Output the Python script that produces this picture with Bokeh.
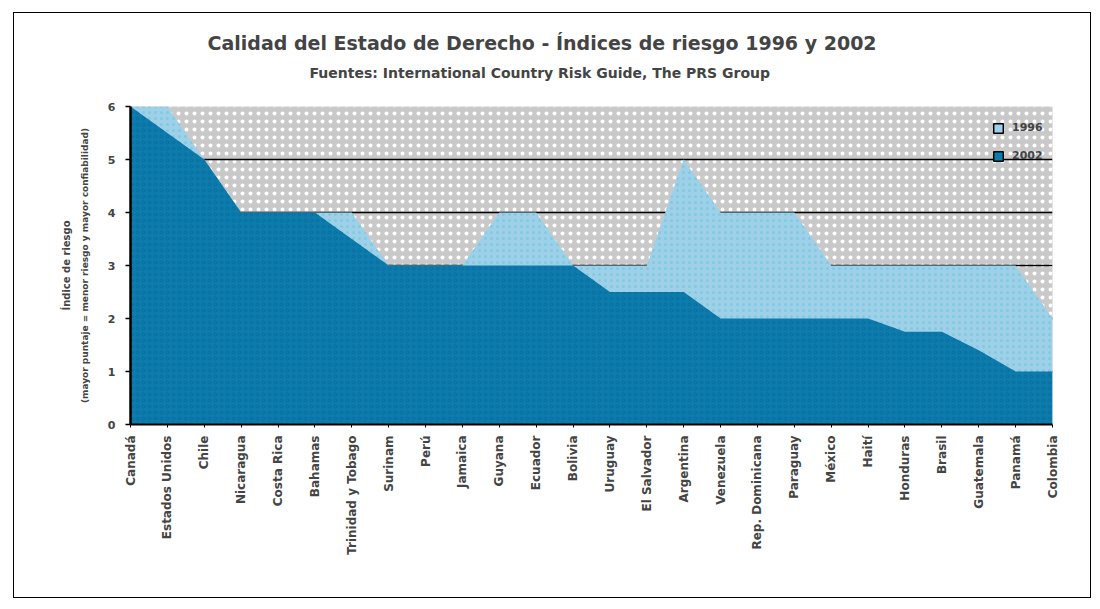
import math
from bokeh.plotting import figure
from bokeh.models import (FixedTicker, BoxAnnotation, Legend, LegendItem, Title,
                          ColumnDataSource, Range1d, LinearAxis)
from bokeh.embed import file_html
from bokeh.resources import INLINE

# ---- data ----
countries = ["Canadá", "Estados Unidos", "Chile", "Nicaragua", "Costa Rica", "Bahamas",
             "Trinidad y Tobago", "Surinam", "Perú", "Jamaica", "Guyana", "Ecuador",
             "Bolivia", "Uruguay", "El Salvador", "Argentina", "Venezuela",
             "Rep. Dominicana", "Paraguay", "México", "Haití", "Honduras", "Brasil",
             "Guatemala", "Panamá", "Colombia"]
v1996 = [6, 6, 5, 4, 4, 4, 4, 3, 3, 3, 4, 4, 3, 3, 3, 5, 4, 4, 4, 3, 3, 3, 3, 3, 3, 2]
v2002 = [6, 5.5, 5, 4, 4, 4, 3.5, 3, 3, 3, 3, 3, 3, 2.5, 2.5, 2.5, 2, 2, 2, 2, 2,
         1.75, 1.75, 1.4, 1, 1]
y_ticks = [0, 1, 2, 3, 4, 5, 6]
series_names = ["1996", "2002"]
title_text = "Calidad del Estado de Derecho - Índices de riesgo 1996 y 2002"
subtitle_text = "Fuentes: International Country Risk Guide, The PRS Group"
ylabel1 = "Índice de riesgo"
ylabel2 = "(mayor puntaje = menor riesgo y mayor confiabilidad)"

xs = list(range(len(countries)))
src = ColumnDataSource(dict(x=xs, y96=v1996, y02=v2002, zero=[0] * len(xs)))

LIGHT = "#9fd0ea"
DARK = "#0b7cab"
FONT = "DejaVu Sans"

p = figure(width=1078, height=586, frame_width=922, frame_height=318,
           output_backend="svg", toolbar_location=None,
           x_range=Range1d(0, len(xs) - 1), y_range=Range1d(0, 6),
           min_border_left=116, min_border_right=38, min_border_top=93,
           min_border_bottom=173, title=None)
p.margin = (12, 0, 0, 13)
p.styles = {"border": "1px solid black"}
p.outline_line_color = None
p.background_fill_color = "#c9c9c9"
p.border_fill_color = "white"

bg = BoxAnnotation(fill_alpha=0, line_alpha=0, hatch_pattern="dot", hatch_color="white",
                   hatch_scale=8, hatch_weight=1.6, level="image")
p.add_layout(bg)

r96 = p.varea(x="x", y1="zero", y2="y96", source=src, fill_color=LIGHT,
              hatch_pattern="dot", hatch_color="#6cc6d2", hatch_scale=6, hatch_weight=1,
              hatch_alpha=0.6)
r02 = p.varea(x="x", y1="zero", y2="y02", source=src, fill_color=DARK,
              hatch_pattern="ring", hatch_color="#0a5f96", hatch_scale=6, hatch_weight=1,
              hatch_alpha=0.5)

# axes
p.xgrid.visible = False
p.ygrid.ticker = FixedTicker(ticks=y_ticks)
p.ygrid.grid_line_color = "black"
p.ygrid.grid_line_width = 1.6

p.yaxis.ticker = FixedTicker(ticks=y_ticks)
p.yaxis.axis_line_width = 2.5
p.yaxis.axis_line_color = "black"
p.yaxis.major_tick_out = 5
p.yaxis.major_tick_in = 0
p.yaxis.major_tick_line_width = 1.5
p.yaxis.minor_tick_line_color = None
p.yaxis.major_label_standoff = 10
p.yaxis.major_label_text_font = FONT
p.yaxis.major_label_text_font_style = "bold"
p.yaxis.major_label_text_font_size = "11px"
p.yaxis.axis_label = ylabel2
p.yaxis.axis_label_text_font = FONT
p.yaxis.axis_label_text_font_style = "bold"
p.yaxis.axis_label_text_font_size = "9px"
p.yaxis.axis_label_standoff = 15

outer = LinearAxis(axis_label=ylabel1, ticker=FixedTicker(ticks=[]),
                   axis_line_color=None, major_tick_line_color=None,
                   minor_tick_line_color=None, major_label_text_font_size="0px",
                   axis_label_text_font=FONT, axis_label_text_font_style="bold",
                   axis_label_text_font_size="10px", axis_label_standoff=5)
p.add_layout(outer, "left")

p.xaxis.ticker = FixedTicker(ticks=xs)
p.xaxis.major_label_overrides = {i: c for i, c in zip(xs, countries)}
p.xaxis.major_label_orientation = math.pi / 2
p.xaxis.axis_line_width = 2
p.xaxis.axis_line_color = "black"
p.xaxis.major_tick_out = 3
p.xaxis.major_tick_in = 0
p.xaxis.minor_tick_line_color = None
p.xaxis.major_label_standoff = 8
p.xaxis.major_label_text_font = FONT
p.xaxis.major_label_text_font_style = "bold"
p.xaxis.major_label_text_font_size = "12px"

# legend: hidden zero-width quads carry the swatch style (outlined squares)
l96 = p.quad(left="x", right="x", top="y96", bottom="zero", source=src,
             fill_color=LIGHT, line_color="black", line_width=1.5, visible=False)
l02 = p.quad(left="x", right="x", top="y02", bottom="zero", source=src,
             fill_color=DARK, line_color="black", line_width=1.5, visible=False)
legend = Legend(items=[LegendItem(label=series_names[0], renderers=[l96]),
                       LegendItem(label=series_names[1], renderers=[l02])],
                location=(862, 262), orientation="vertical",
                glyph_width=12, glyph_height=12, label_height=12, spacing=15,
                padding=0, margin=0, border_line_color=None, background_fill_alpha=0,
                inactive_fill_alpha=0,
                label_text_font=FONT, label_text_font_style="bold",
                label_text_font_size="11px", label_standoff=8)
p.add_layout(legend, "center")

# titles, stacked outward from the plot: blank spacer, subtitle, title
p.add_layout(Title(text=" ", standoff=19, text_font_size="1px"), "above")
p.add_layout(Title(text=subtitle_text, align="left", offset=179, standoff=8,
                   text_font=FONT, text_font_style="bold", text_font_size="14px"), "above")
p.add_layout(Title(text=title_text, align="left", offset=77, standoff=10,
                   text_font=FONT, text_font_style="bold", text_font_size="19px"), "above")

open("out.html", "w").write(file_html(p, INLINE))
